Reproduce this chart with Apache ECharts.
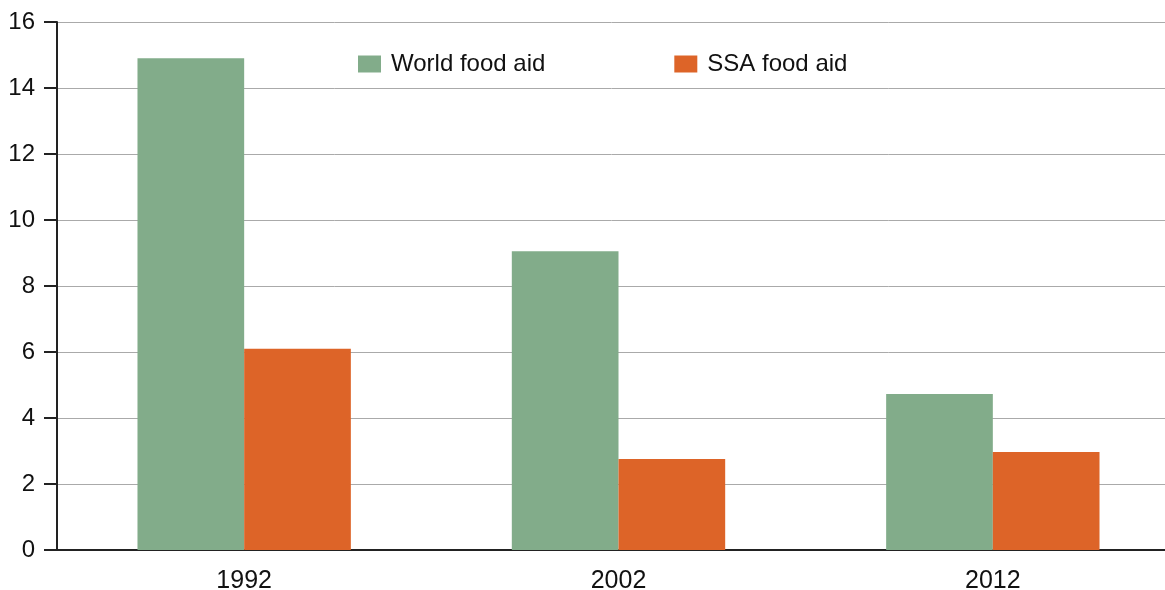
<!DOCTYPE html>
<html><head><meta charset="utf-8">
<script src="https://cdn.jsdelivr.net/npm/echarts@6/dist/echarts.min.js"></script>
<style>html,body{margin:0;padding:0;background:#fff}#c{width:1165px;height:590px}</style>
</head><body><div id="c"></div>
<script>
const categories = ['1992', '2002', '2012'];
const worldFoodAid = [14.9, 9.05, 4.73];
const ssaFoodAid = [6.1, 2.76, 2.97];
const yTicks = [0, 2, 4, 6, 8, 10, 12, 14, 16];

const chart = echarts.init(document.getElementById('c'), null, {renderer: 'canvas'});
const font = 'Liberation Sans, Arial, sans-serif';
chart.setOption({
  animation: false,
  textStyle: {fontFamily: font},
  grid: {left: 57, width: 1123, top: 22, height: 528, containLabel: false, outerBoundsMode: 'none'},
  legend: {
    left: 353, top: 47, itemWidth: 23, itemHeight: 17, itemGap: 129, icon: 'rect',
    textStyle: {fontSize: 24, color: '#111', fontFamily: font, padding: [0, 0, 0, 5]},
    data: ['World food aid', 'SSA food aid']
  },
  xAxis: {
    type: 'category', data: categories,
    axisLine: {lineStyle: {color: '#222', width: 2}},
    axisTick: {show: false},
    axisLabel: {fontSize: 25, color: '#111', margin: 19, fontFamily: font}
  },
  yAxis: {
    type: 'value', min: 0, max: yTicks[yTicks.length - 1], interval: 2,
    axisLine: {show: true, lineStyle: {color: '#222', width: 2}},
    axisTick: {show: true, length: 13, lineStyle: {color: '#222', width: 2}},
    axisLabel: {fontSize: 24, color: '#111', margin: 22, fontFamily: font},
    splitLine: {lineStyle: {color: '#aaa', width: 1}}
  },
  series: [
    {name: 'World food aid', type: 'bar', data: worldFoodAid, barGap: '0%', barCategoryGap: '43%',
     itemStyle: {color: '#82ac8a'}},
    {name: 'SSA food aid', type: 'bar', data: ssaFoodAid,
     itemStyle: {color: '#dd6428'}}
  ]
});
</script></body></html>
